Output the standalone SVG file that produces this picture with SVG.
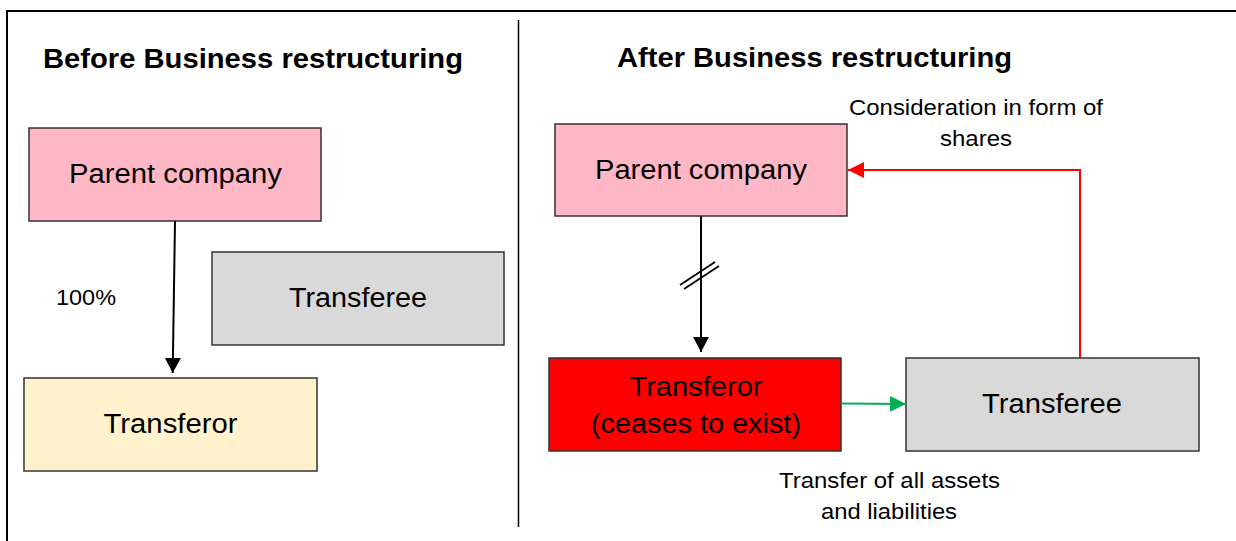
<svg xmlns="http://www.w3.org/2000/svg" width="1236" height="541" viewBox="0 0 1236 541">
  <style>
    text { font-family: "Liberation Sans", Arial, sans-serif; fill: #000; }
    .title { font-size: 27px; font-weight: bold; }
    .lbl { font-size: 27px; text-anchor: middle; }
    .small { font-size: 22px; }
    .box { stroke: #333; stroke-width: 1.5; }
    .frame { stroke: #000; stroke-width: 2; fill: none; }
    .conn { fill: none; stroke-width: 2; }
  </style>
  <defs>
    <marker id="arrowBlack" markerUnits="userSpaceOnUse" markerWidth="16" markerHeight="16" refX="15" refY="8" orient="auto">
      <path d="M0,0 L15,8 L0,16 Z" fill="#000"/>
    </marker>
    <marker id="arrowRed" markerUnits="userSpaceOnUse" markerWidth="17" markerHeight="17" refX="16" refY="8" orient="auto">
      <path d="M0,0 L16,8 L0,16 Z" fill="#FF0000"/>
    </marker>
    <marker id="arrowGreen" markerUnits="userSpaceOnUse" markerWidth="17" markerHeight="17" refX="16" refY="8" orient="auto">
      <path d="M0,0 L16,8 L0,16 Z" fill="#00B050"/>
    </marker>
  </defs>

  <rect width="1236" height="541" fill="#fff"/>

  <!-- outer frame (right and bottom edges run off the page) and divider -->
  <path class="frame" d="M7,541 L7,11 L1236,11"/>
  <line x1="518.5" y1="20" x2="518.5" y2="527" stroke="#000" stroke-width="1.5"/>

  <!-- section headings -->
  <text class="title" x="43" y="68" textLength="420" lengthAdjust="spacingAndGlyphs">Before Business restructuring</text>
  <text class="title" x="617" y="67" textLength="395" lengthAdjust="spacingAndGlyphs">After Business restructuring</text>

  <!-- before: nodes -->
  <g id="before-parent">
    <rect class="box" x="29" y="128" width="292" height="93" fill="#FFB7C5"/>
    <text class="lbl" x="175.5" y="183" textLength="213" lengthAdjust="spacingAndGlyphs">Parent company</text>
  </g>
  <g id="before-transferee">
    <rect class="box" x="212" y="252" width="292" height="93" fill="#D9D9D9"/>
    <text class="lbl" x="358" y="307" textLength="138" lengthAdjust="spacingAndGlyphs">Transferee</text>
  </g>
  <g id="before-transferor">
    <rect class="box" x="24" y="378" width="293" height="93" fill="#FFF2CC"/>
    <text class="lbl" x="170.5" y="433" textLength="134" lengthAdjust="spacingAndGlyphs">Transferor</text>
  </g>

  <!-- after: nodes -->
  <g id="after-parent">
    <rect class="box" x="555" y="124" width="292" height="92" fill="#FFB7C5"/>
    <text class="lbl" x="701" y="179" textLength="212" lengthAdjust="spacingAndGlyphs">Parent company</text>
  </g>
  <g id="after-transferor">
    <rect class="box" x="549" y="358" width="292" height="93" fill="#FF0000"/>
    <text class="lbl" x="696" y="396" textLength="133" lengthAdjust="spacingAndGlyphs">Transferor</text>
    <text class="lbl" x="696" y="433" textLength="210" lengthAdjust="spacingAndGlyphs">(ceases to exist)</text>
  </g>
  <g id="after-transferee">
    <rect class="box" x="906" y="358" width="293" height="93" fill="#D9D9D9"/>
    <text class="lbl" x="1052" y="413" textLength="140" lengthAdjust="spacingAndGlyphs">Transferee</text>
  </g>

  <!-- connectors -->
  <g id="connectors">
    <line class="conn" x1="175" y1="221" x2="172.7" y2="373" stroke="#000" marker-end="url(#arrowBlack)"/>
    <line class="conn" x1="701" y1="216" x2="701" y2="352" stroke="#000" marker-end="url(#arrowBlack)"/>
    <!-- break marks on the severed ownership line -->
    <line x1="680" y1="285" x2="715" y2="262" stroke="#000" stroke-width="1.8"/>
    <line x1="684" y1="289" x2="719" y2="266" stroke="#000" stroke-width="1.8"/>
    <polyline class="conn" points="1080,358 1080,170 848,170" stroke="#FF0000" marker-end="url(#arrowRed)"/>
    <line class="conn" x1="842" y1="403.5" x2="906" y2="404" stroke="#00B050" marker-end="url(#arrowGreen)"/>
  </g>

  <!-- connector labels -->
  <g id="labels">
    <text class="small" x="56" y="305" textLength="60" lengthAdjust="spacingAndGlyphs">100%</text>
    <text class="small" x="849" y="115" textLength="254" lengthAdjust="spacingAndGlyphs">Consideration in form of</text>
    <text class="small" x="940" y="146" textLength="72" lengthAdjust="spacingAndGlyphs">shares</text>
    <text class="small" x="779" y="488" textLength="221" lengthAdjust="spacingAndGlyphs">Transfer of all assets</text>
    <text class="small" x="821" y="519" textLength="136" lengthAdjust="spacingAndGlyphs">and liabilities</text>
  </g>
</svg>
